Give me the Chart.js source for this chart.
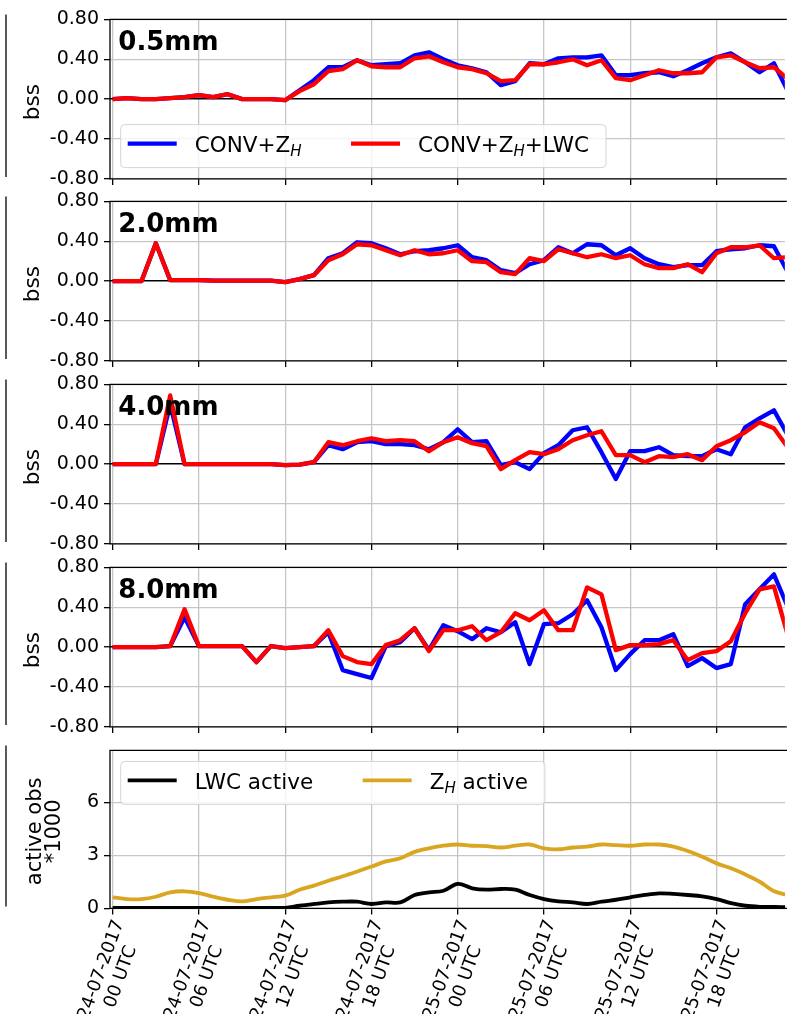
<!DOCTYPE html>
<html>
<head>
<meta charset="utf-8">
<script src="https://cdn.jsdelivr.net/npm/chart.js@4.4.0/dist/chart.umd.min.js"></script>
<style>
  html, body { margin: 0; padding: 0; background: #fff; width: 787px; height: 1016px; overflow: hidden; }
  canvas { position: absolute; left: 0; }
</style>
</head>
<body>
<canvas id="p0" width="787" height="197"></canvas>
<canvas id="p1" width="787" height="197"></canvas>
<canvas id="p2" width="787" height="197"></canvas>
<canvas id="p3" width="787" height="197"></canvas>
<canvas id="p4" width="787" height="280"></canvas>
<script>
// ---- data -------------------------------------------------------------
// hourly verification times, hours since 24-07-2017 00 UTC
const hours = [0,1,2,3,4,5,6,7,8,9,10,11,12,13,14,15,16,17,18,19,20,21,22,23,
               24,25,26,27,28,29,30,31,32,33,34,35,36,37,38,39,40,41,42,43,44,45,46,47];

// labelled time axis ticks
const tickHours = [0, 6, 12, 18, 24, 30, 36, 42];
const tickDates = ['24-07-2017','24-07-2017','24-07-2017','24-07-2017',
                   '25-07-2017','25-07-2017','25-07-2017','25-07-2017'];
const tickTimes = ['00 UTC','06 UTC','12 UTC','18 UTC','00 UTC','06 UTC','12 UTC','18 UTC'];

// precipitation thresholds of the Brier skill score panels
const thresholds = ['0.5mm', '2.0mm', '4.0mm', '8.0mm'];

// Brier skill score, experiment CONV+ZH
const convZh05 = [0.00,0.01,0.00,0.00,0.01,0.02,0.04,0.02,0.05,0.00,0.00,0.00,-0.01,0.09,0.19,0.32,0.32,0.39,0.34,0.35,
                  0.36,0.44,0.47,0.40,0.34,0.31,0.27,0.14,0.18,0.36,0.35,0.41,0.42,0.42,0.44,0.24,0.24,0.26,0.27,0.23,
                  0.29,0.36,0.42,0.46,0.37,0.27,0.36,0.07];
const convZh20 = [0.00,0.00,0.00,0.38,0.01,0.01,0.01,0.005,0.005,0.005,0.005,0.005,-0.01,0.02,0.06,0.23,0.28,0.39,0.38,0.33,
                  0.27,0.30,0.31,0.33,0.36,0.24,0.21,0.11,0.08,0.17,0.21,0.34,0.28,0.37,0.36,0.26,0.33,0.23,0.17,0.14,
                  0.16,0.16,0.30,0.32,0.33,0.36,0.35,0.08];
const convZh40 = [0.00,0.00,0.00,0.00,0.60,0.00,0.00,0.00,0.00,0.00,0.00,0.00,-0.01,-0.005,0.02,0.19,0.15,0.22,0.23,0.20,
                  0.20,0.19,0.15,0.22,0.35,0.22,0.23,-0.01,0.02,-0.05,0.11,0.19,0.34,0.37,0.12,-0.15,0.13,0.13,0.17,0.09,
                  0.08,0.08,0.15,0.10,0.37,0.46,0.54,0.28];
const convZh80 = [0.00,0.00,0.00,0.00,0.01,0.30,0.01,0.01,0.01,0.01,-0.15,0.01,-0.01,0.00,0.01,0.15,-0.23,-0.27,-0.31,0.01,
                  0.05,0.19,-0.03,0.22,0.16,0.08,0.19,0.15,0.25,-0.17,0.23,0.24,0.33,0.47,0.20,-0.23,-0.07,0.07,0.07,0.13,
                  -0.19,-0.11,-0.21,-0.17,0.43,0.58,0.73,0.39];

// Brier skill score, experiment CONV+ZH+LWC
const convZhLwc05 = [0.00,0.01,0.00,0.00,0.01,0.02,0.04,0.02,0.05,0.00,0.00,0.00,-0.01,0.08,0.15,0.28,0.30,0.39,0.33,0.32,
                     0.32,0.41,0.43,0.37,0.32,0.30,0.26,0.18,0.19,0.35,0.35,0.37,0.40,0.34,0.39,0.21,0.19,0.24,0.29,0.26,
                     0.26,0.27,0.42,0.44,0.37,0.31,0.32,0.20];
const convZhLwc20 = [0.00,0.00,0.00,0.38,0.01,0.01,0.01,0.005,0.005,0.005,0.005,0.005,-0.01,0.02,0.06,0.21,0.27,0.37,0.36,0.31,
                     0.26,0.31,0.27,0.28,0.31,0.20,0.19,0.09,0.07,0.23,0.20,0.32,0.28,0.24,0.27,0.23,0.26,0.17,0.13,0.13,
                     0.17,0.09,0.28,0.34,0.34,0.36,0.23,0.24];
const convZhLwc40 = [0.00,0.00,0.00,0.00,0.69,0.00,0.00,0.00,0.00,0.00,0.00,0.00,-0.01,-0.005,0.02,0.22,0.19,0.23,0.26,0.23,
                     0.24,0.23,0.13,0.22,0.27,0.21,0.18,-0.05,0.04,0.12,0.10,0.15,0.24,0.29,0.33,0.09,0.09,0.02,0.08,0.07,
                     0.10,0.04,0.18,0.24,0.32,0.42,0.36,0.16];
const convZhLwc80 = [0.00,0.00,0.00,0.00,0.01,0.38,0.01,0.01,0.01,0.01,-0.15,0.01,-0.01,0.00,0.01,0.17,-0.09,-0.15,-0.17,0.02,
                     0.07,0.19,-0.04,0.17,0.17,0.21,0.07,0.15,0.34,0.27,0.37,0.17,0.17,0.60,0.53,-0.03,0.02,0.02,0.03,0.07,
                     -0.13,-0.06,-0.04,0.06,0.34,0.58,0.61,0.10];

// number of active observations (*1000)
const lwcActive = [0.03,0.03,0.03,0.03,0.03,0.03,0.03,0.03,0.03,0.03,0.03,0.03,0.03,0.15,0.25,0.34,0.38,0.38,0.25,0.34,
                   0.34,0.76,0.91,1.00,1.39,1.14,1.06,1.10,1.06,0.76,0.53,0.40,0.34,0.25,0.38,0.49,0.63,0.76,0.85,0.82,
                   0.76,0.68,0.53,0.30,0.15,0.09,0.08,0.06];
const zhActive  = [0.63,0.53,0.53,0.66,0.91,0.97,0.87,0.66,0.49,0.40,0.53,0.63,0.72,1.06,1.29,1.57,1.82,2.09,2.37,2.66,
                   2.84,3.20,3.40,3.55,3.62,3.55,3.53,3.45,3.55,3.62,3.40,3.35,3.45,3.50,3.62,3.58,3.55,3.62,3.62,3.50,
                   3.25,2.93,2.55,2.27,1.92,1.51,0.97,0.75];

// ---- layout & style ---------------------------------------------------
const FONT = '"DejaVu Sans", "Liberation Sans", sans-serif';
const PAD_TOP = 14;
const AXIS_W = 110;
const PANEL_TOPS = [19, 201.7, 384.4, 567, 750];
const BSS_H = 159.5, OBS_H = 158;
const H_MIN = -0.187, H_MAX = 46.76;
const GRID = '#c6c6c6';
const BLUE = '#0000ff', RED = '#ff0000', GOLD = '#daa520';

Chart.defaults.font.family = FONT;
Chart.defaults.color = '#000';

function series(values) { return hours.map((h, i) => ({ x: h, y: values[i] })); }

// text with a mathtext-like italic subscript, e.g. Z_H
function richWidth(ctx, parts, size) {
  let w = 0;
  for (const [t, sub] of parts) {
    ctx.font = sub ? `italic ${size * 0.7}px ${FONT}` : `${size}px ${FONT}`;
    w += ctx.measureText(t).width;
  }
  return w;
}
function drawRich(ctx, parts, x, y, size) {
  for (const [t, sub] of parts) {
    ctx.font = sub ? `italic ${size * 0.7}px ${FONT}` : `${size}px ${FONT}`;
    ctx.fillText(t, x, sub ? y + size * 0.2 : y);
    x += ctx.measureText(t).width;
  }
  return x;
}

function drawLegend(ctx, a, spec) {
  const size = 21.5, boxH = 43, gap = 49.5;
  const boxL = a.left + 10.7;
  const boxT = spec.where === 'lower' ? a.bottom - 11.3 - boxH : a.top + 11;
  let x = boxL + 7;
  const items = [];
  for (const e of spec.entries) {
    const x0 = x, x1 = x0 + 49, tx = x1 + 18;
    items.push({ x0, x1, tx, e });
    x = tx + richWidth(ctx, e.parts, size) + gap;
  }
  const boxR = x - gap + 17;
  ctx.save();
  ctx.beginPath();
  ctx.roundRect(boxL, boxT, boxR - boxL, boxH, 4);
  ctx.fillStyle = 'rgba(255,255,255,0.8)';
  ctx.fill();
  ctx.strokeStyle = '#d4d4d4';
  ctx.lineWidth = 1;
  ctx.stroke();
  ctx.textBaseline = 'alphabetic';
  ctx.textAlign = 'left';
  for (const it of items) {
    ctx.beginPath();
    ctx.moveTo(it.x0, boxT + 19);
    ctx.lineTo(it.x1, boxT + 19);
    ctx.strokeStyle = it.e.color;
    ctx.lineWidth = it.e.width;
    ctx.stroke();
    ctx.fillStyle = '#000';
    drawRich(ctx, it.e.parts, it.tx, boxT + 27.5, size);
  }
  ctx.restore();
}

// frame, panel tag, legend, axis titles and date labels
const decor = {
  id: 'decor',
  afterDatasetsDraw(chart, args, o) {
    const { ctx, chartArea: a } = chart;
    ctx.save();
    ctx.strokeStyle = '#000';
    ctx.lineWidth = 1.3;
    ctx.beginPath();
    ctx.moveTo(a.right + 2, a.top); ctx.lineTo(a.left, a.top);
    ctx.lineTo(a.left, a.bottom); ctx.lineTo(a.right + 2, a.bottom);
    ctx.stroke();
    // right edge of the adjoining panel column
    ctx.beginPath();
    ctx.moveTo(6, a.top - 5); ctx.lineTo(6, a.bottom - 2);
    ctx.stroke();

    if (o.tag) {
      ctx.fillStyle = '#000';
      ctx.font = `bold 26px ${FONT}`;
      ctx.textAlign = 'left';
      ctx.textBaseline = 'alphabetic';
      ctx.fillText(o.tag, a.left + 8.3, a.top + 30.3);
    }
    if (o.legend) drawLegend(ctx, a, o.legend);

    if (o.yTitle) {
      const cy = (a.top + a.bottom) / 2 + o.yTitle.dy;
      ctx.fillStyle = '#000';
      ctx.font = `${o.yTitle.size}px ${FONT}`;
      ctx.textAlign = 'center';
      ctx.textBaseline = 'alphabetic';
      o.yTitle.lines.forEach((t, i) => {
        ctx.save();
        ctx.translate(o.yTitle.x[i], cy);
        ctx.rotate(-Math.PI / 2);
        ctx.fillText(t, 0, 0);
        ctx.restore();
      });
    }

    if (o.timeLabels) {
      const sx = chart.scales.x;
      const ang = -70 * Math.PI / 180;
      ctx.fillStyle = '#000';
      ctx.font = `18px ${FONT}`;
      ctx.textAlign = 'center';
      ctx.textBaseline = 'middle';
      for (const t of sx.ticks) {
        const k = tickHours.indexOf(t.value);
        if (k < 0) continue;
        const px = sx.getPixelForValue(t.value);
        ctx.save();
        ctx.translate(px - 1.5, a.bottom + 65);
        ctx.rotate(ang);
        ctx.fillText(tickDates[k], 0, -10.3);
        ctx.fillText(tickTimes[k], 0, 10.3);
        ctx.restore();
      }
    }
    ctx.restore();
  }
};

function makeOptions(p) {
  return {
    responsive: false,
    animation: false,
    devicePixelRatio: 1,
    layout: { padding: { top: PAD_TOP, left: 0, right: 0, bottom: 0 } },
    elements: {
      point: { radius: 0, hoverRadius: 0 },
      line: { borderJoinStyle: 'round', borderCapStyle: 'butt' }
    },
    plugins: {
      legend: { display: false },
      tooltip: { enabled: false },
      decor: p.decor
    },
    scales: {
      x: {
        type: 'linear', min: H_MIN, max: H_MAX,
        border: { display: false },
        grid: { color: GRID, lineWidth: 1.3, drawTicks: true, tickLength: 6, tickColor: '#000', tickWidth: 1.3 },
        ticks: { display: false, stepSize: 6, includeBounds: false },
        afterFit: s => { s.height = p.xAxisH; }
      },
      y: {
        min: p.ymin, max: p.ymax,
        border: { display: false },
        grid: {
          color: c => (p.zeroLine && c.tick && c.tick.value === 0) ? '#000' : GRID,
          lineWidth: c => (p.zeroLine && c.tick && c.tick.value === 0) ? 1.5 : 1.3,
          drawTicks: true, tickLength: 6, tickColor: '#000', tickWidth: 1.3
        },
        ticks: {
          stepSize: p.ystep, includeBounds: false, padding: 5, color: '#000',
          font: { size: 19, family: FONT },
          callback: p.yfmt
        },
        afterFit: s => { s.width = AXIS_W; }
      }
    }
  };
}

// size the plot area exactly, then move the canvas so it starts at `top`
function place(canvas, chart, p, top, h) {
  for (let k = 0; k < 4; k++) {
    const d = chart.chartArea.bottom - chart.chartArea.top - h;
    if (Math.abs(d) < 0.25) break;
    p.xAxisH += d;
    chart.update();
  }
  canvas.style.top = (top - chart.chartArea.top) + 'px';
}

// ---- Brier skill score panels -----------------------------------------
const convSets = [convZh05, convZh20, convZh40, convZh80];
const lwcSets  = [convZhLwc05, convZhLwc20, convZhLwc40, convZhLwc80];

for (let i = 0; i < 4; i++) {
  const cv = document.getElementById('p' + i);
  const decorOpts = {
    tag: thresholds[i],
    yTitle: { lines: ['bss'], x: [39.3], dy: 3, size: 21.5 }
  };
  if (i === 0) {
    decorOpts.legend = {
      where: 'lower',
      entries: [
        { color: BLUE, width: 4.3, parts: [['CONV+Z', false], ['H', true]] },
        { color: RED,  width: 4.3, parts: [['CONV+Z', false], ['H', true], ['+LWC', false]] }
      ]
    };
  }
  const p = {
    ymin: -0.8, ymax: 0.8, ystep: 0.4, zeroLine: true,
    yfmt: v => v.toFixed(2),
    xAxisH: 197 - PAD_TOP - BSS_H,
    decor: decorOpts
  };
  const chart = new Chart(cv, {
    type: 'line',
    data: {
      datasets: [
        { label: 'CONV+ZH', data: series(convSets[i]), borderColor: BLUE, borderWidth: 4.3, order: 2, tension: 0 },
        { label: 'CONV+ZH+LWC', data: series(lwcSets[i]), borderColor: RED, borderWidth: 4.3, order: 1, tension: 0 }
      ]
    },
    options: makeOptions(p),
    plugins: [decor]
  });
  place(cv, chart, p, PANEL_TOPS[i], BSS_H);
}

// ---- active observations panel ----------------------------------------
{
  const cv = document.getElementById('p4');
  const p = {
    ymin: 0, ymax: 8.95, ystep: 3, zeroLine: false,
    yfmt: v => String(v),
    xAxisH: 280 - PAD_TOP - OBS_H,
    decor: {
      timeLabels: true,
      yTitle: { lines: ['active obs', '*1000'], x: [40.5, 59.5], dy: 2, size: 21 },
      legend: {
        where: 'upper',
        entries: [
          { color: '#000', width: 3.8, parts: [['LWC active', false]] },
          { color: GOLD,  width: 3.8, parts: [['Z', false], ['H', true], [' active', false]] }
        ]
      }
    }
  };
  const chart = new Chart(cv, {
    type: 'line',
    data: {
      datasets: [
        { label: 'LWC active', data: series(lwcActive), borderColor: '#000', borderWidth: 3.8, order: 1, tension: 0.35 },
        { label: 'ZH active', data: series(zhActive), borderColor: GOLD, borderWidth: 3.8, order: 2, tension: 0.35 }
      ]
    },
    options: makeOptions(p),
    plugins: [decor]
  });
  place(cv, chart, p, PANEL_TOPS[4], OBS_H);
}
</script>
</body>
</html>
